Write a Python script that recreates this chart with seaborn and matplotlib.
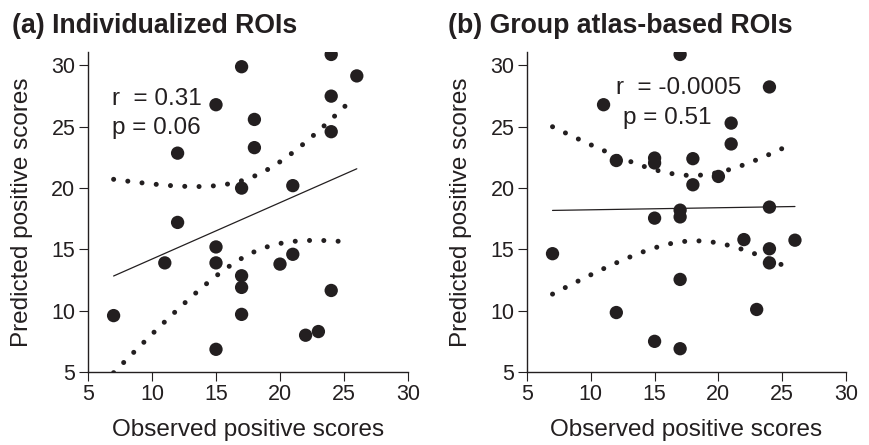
import numpy as np
import pandas as pd
import matplotlib
matplotlib.use("Agg")
import matplotlib.pyplot as plt
import seaborn as sns

# ---- data ----
observed = [7, 11, 12, 12, 15, 15, 15, 15, 17, 17, 17, 17, 17,
            18, 18, 20, 21, 21, 22, 23, 24, 24, 24, 24, 26]
predicted_individual = [9.6, 13.9, 22.85, 17.2, 26.8, 15.2, 13.9, 6.85,
                        29.9, 20.0, 12.85, 11.9, 9.7, 25.6, 23.3, 13.8,
                        20.2, 14.6, 8.0, 8.3, 30.9, 27.5, 24.6, 11.65, 29.15]
predicted_atlas = [14.65, 26.8, 22.25, 9.85, 22.45, 22.05, 17.55, 7.5,
                   30.9, 18.2, 17.65, 12.55, 6.9, 22.4, 20.27, 20.95,
                   25.3, 23.6, 15.8, 10.1, 28.25, 18.45, 15.05, 13.9, 15.75]
panel_titles = ["(a) Individualized ROIs", "(b) Group atlas-based ROIs"]
stat_r = ["r  = 0.31", "r  = -0.0005"]
stat_p = ["p = 0.06", "p = 0.51"]
x_ticks = [5, 10, 15, 20, 25, 30]
y_ticks = [5, 10, 15, 20, 25, 30]

try:
    from scipy import stats
    def tcrit(df):
        return stats.t.ppf(0.975, df)
except Exception:
    def tcrit(df):
        return 2.069

sns.set_theme(style="ticks")
plt.rcParams["font.family"] = ["Liberation Sans", "DejaVu Sans"]
INK = "#231f20"

fig = plt.figure(figsize=(8.69, 4.45), dpi=100)
W, H = 869, 445
ax_a = fig.add_axes([88 / W, (H - 372) / H, 320 / W, (372 - 52) / H])
ax_b = fig.add_axes([527 / W, (H - 372) / H, 319 / W, (372 - 52) / H])

text_pos = [((6.9, 26.8), (6.9, 24.45)), ((12.0, 27.7), (12.5, 25.25))]
title_x = [12, 448]

for i, (ax, yvals) in enumerate(zip([ax_a, ax_b], [predicted_individual, predicted_atlas])):
    df = pd.DataFrame({"Observed": observed, "Predicted": yvals})
    x = np.asarray(observed, float)
    y = np.asarray(yvals, float)
    # fitted line
    sns.regplot(data=df, x="Observed", y="Predicted", ax=ax, scatter=False,
                ci=None, truncate=True,
                line_kws=dict(color=INK, lw=0.9))
    # 95% confidence band of the fit, computed from the data
    n = len(x)
    b1, b0 = np.polyfit(x, y, 1)
    resid = y - (b0 + b1 * x)
    s = np.sqrt(np.sum(resid ** 2) / (n - 2))
    sxx = np.sum((x - x.mean()) ** 2)
    xg = np.linspace(x.min(), 25.6, 200)
    se = s * np.sqrt(1.0 / n + (xg - x.mean()) ** 2 / sxx)
    t = tcrit(n - 2)
    fit = b0 + b1 * xg
    for band in (fit + t * se, fit - t * se):
        ax.plot(xg, band, color=INK, lw=3.6, linestyle=(0, (0.01, 2.85)),
                dash_capstyle="round")
    # points
    sns.scatterplot(data=df, x="Observed", y="Predicted", ax=ax, s=92,
                    color=INK, edgecolor="none", linewidth=0, zorder=3)

    ax.set_xlim(5, 30)
    ax.set_ylim(5, 31.1)
    ax.set_xticks(x_ticks)
    ax.set_yticks(y_ticks)
    ax.tick_params(labelsize=15.5, colors=INK, length=6.5, width=0.8, pad=2.5)
    for sp in ("top", "right"):
        ax.spines[sp].set_visible(False)
    for sp in ("left", "bottom"):
        ax.spines[sp].set_color(INK)
        ax.spines[sp].set_linewidth(1.0)
    ax.set_xlabel("Observed positive scores", fontsize=17.5, color=INK, labelpad=10)
    ax.set_ylabel("Predicted positive scores", fontsize=17.5, color=INK, labelpad=13)

    (rx, ry), (px, py) = text_pos[i]
    ax.text(rx, ry, stat_r[i], fontsize=17.5, color=INK, va="baseline", ha="left")
    ax.text(px, py, stat_p[i], fontsize=17.5, color=INK, va="baseline", ha="left")

    fig.text(title_x[i] / W, (H - 33) / H, panel_titles[i], fontsize=19.2,
             fontweight="bold", color=INK, va="baseline", ha="left")

fig.savefig("out.png", dpi=100)
